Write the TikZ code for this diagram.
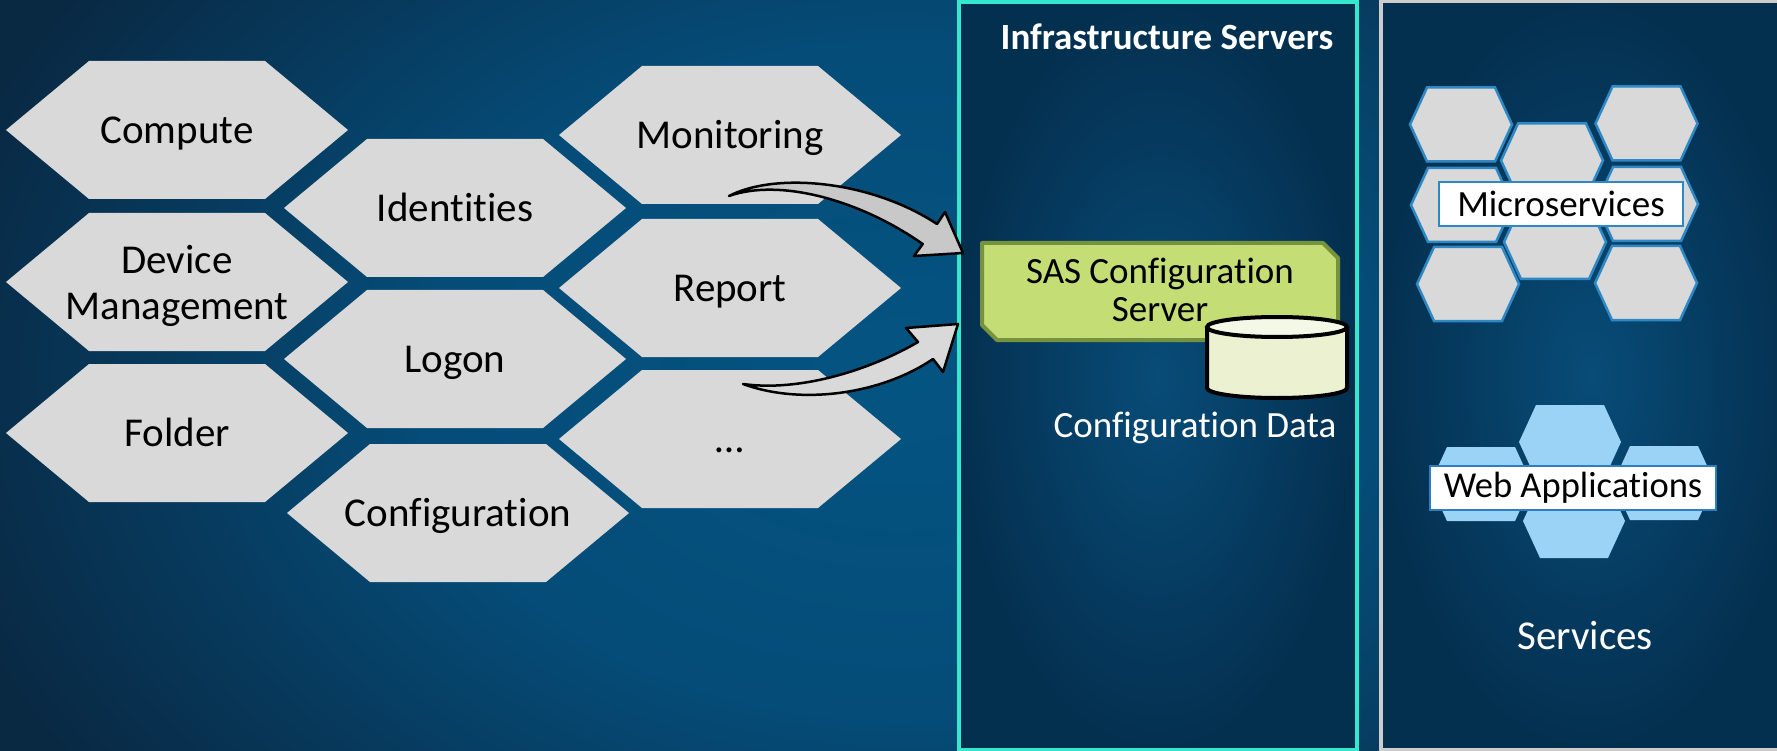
\documentclass[tikz,border=0pt]{standalone}
\usepackage{fontspec}
\setmainfont[Ligatures=NoCommon]{Carlito}
\definecolor{hexgray}{RGB}{217,217,217}
\definecolor{tealline}{RGB}{52,232,206}
\definecolor{panelgray}{RGB}{205,205,205}
\definecolor{sasgreen}{RGB}{196,221,116}
\definecolor{sasborder}{RGB}{118,146,60}
\definecolor{cylfill}{RGB}{235,241,209}
\definecolor{cyltop}{RGB}{244,248,230}
\definecolor{msblue}{RGB}{46,136,196}
\definecolor{wablue}{RGB}{155,211,246}
\definecolor{arrowgrayA}{RGB}{200,200,200}
\definecolor{arrowgrayB}{RGB}{217,217,217}
\definecolor{bgin}{RGB}{4,84,130}
\definecolor{bgmid}{RGB}{5,76,120}
\definecolor{bgout}{RGB}{9,40,66}
\definecolor{pin}{RGB}{8,76,120}
\definecolor{pout}{RGB}{4,48,80}
\pgfdeclareradialshading{bgshade}{\pgfpoint{0bp}{0bp}}{color(0bp)=(bgin); color(12bp)=(bgmid); color(25bp)=(bgout); color(50bp)=(bgout)}
\pgfdeclareradialshading{panelshade}{\pgfpoint{0bp}{0bp}}{color(0bp)=(pin); color(25bp)=(pout); color(50bp)=(pout)}
% big hexagon: [node options]{name}{cx}{cy}{text}
\newcommand\bighex[5][text height=0.66em,text depth=0.2em,yshift=-11pt]{%
  \fill[hexgray] ({#3-171},#4) -- ({#3-88},{#4-69}) -- ({#3+88},{#4-69}) -- ({#3+171},#4) -- ({#3+88},{#4+69}) -- ({#3-88},{#4+69}) -- cycle;
  \node[hextext,#1] (#2) at (#3,#4) {#5};}
% small hexagon: {name}{cx}{cy}{style}
\newcommand\smallhex[4]{%
  \path[#4] ({#2-51},#3) -- ({#2-34},{#3-37}) -- ({#2+34},{#3-37}) -- ({#2+51},#3) -- ({#2+34},{#3+37}) -- ({#2-34},{#3+37}) -- cycle;
  \coordinate (#1) at (#2,#3);}
\begin{document}
\begin{tikzpicture}[x=1pt,y=-1pt,
  hextext/.style={font=\fontsize{41}{46}\selectfont, text=black, align=center, inner sep=0pt},
  arrowshape/.style={draw=black, line width=2.5pt, line join=round},
  hexms/.style={fill=hexgray, draw=msblue, line width=2.5pt},
  hexwa/.style={fill=wablue},
  labelbox/.style={draw=msblue, fill=white, line width=2.5pt, inner sep=0pt, text=black},
  whitetext/.style={text=white, inner sep=0pt}]
\useasboundingbox (0,0) rectangle (1777,751);
% background
\begin{scope}
\clip (0,0) rectangle (1777,751);
\shade[shading=bgshade] (-100,-320) rectangle (1900,1080);
\end{scope}
% left hexagons
\bighex{compute}{177}{130}{Compute}
\bighex[yshift=-4pt]{devmgmt}{177}{282}{Device\\Management}
\bighex{folder}{177}{433}{Folder}
\bighex{identities}{455}{208}{Identities}
\bighex{logon}{455}{359}{Logon}
\bighex{configuration}{458}{513}{Configuration}
\bighex{monitoring}{730}{135}{Monitoring}
\bighex{report}{730}{288}{Report}
\bighex{more}{730}{439}{…}
% infrastructure panel
\shade[shading=panelshade] (959,2.5) rectangle (1357,749.5);
\draw[tealline, line width=4pt] (959,2.5) rectangle (1357,749.5);
\node[whitetext, font=\bfseries\fontsize{37}{44}\selectfont] (infra) at (1167,37) {Infrastructure Servers};
% SAS configuration server
\draw[sasborder, fill=sasgreen, line width=4pt, line join=round] (982,243) -- (1323,243) -- (1338,258) -- (1338,340) -- (997,340) -- (982,325) -- cycle;
\node[font=\fontsize{37}{38.5}\selectfont, align=center, inner sep=0pt] (sas) at (1160,290) {SAS Configuration\\Server};
% configuration data cylinder
\coordinate (db) at (1277,357);
\fill[cylfill] (1207,327) rectangle (1347,388);
\fill[cylfill] (1277,388) ellipse [x radius=70, y radius=10];
\draw[black, line width=4pt] (1207,327) -- (1207,388) arc[start angle=180, end angle=0, x radius=70, y radius=10] -- (1347,327);
\draw[black, line width=4pt, fill=cyltop] (1277,327) ellipse [x radius=70, y radius=10];
\node[whitetext, font=\fontsize{37}{44}\selectfont] (cdata) at (1195,428) {Configuration Data};
% services panel
\shade[shading=panelshade] (1381,1.5) rectangle (1800,749.5);
\draw[panelgray, line width=4pt] (1381,1.5) rectangle (1800,749.5);
% microservices
\smallhex{msA}{1461}{124.5}{hexms}
\smallhex{msB}{1646.5}{123.5}{hexms}
\smallhex{msD}{1462}{205}{hexms}
\smallhex{msE}{1647}{204}{hexms}
\smallhex{msG}{1468}{284}{hexms}
\smallhex{msH}{1646}{283}{hexms}
\smallhex{msC}{1552}{160.5}{hexms}
\smallhex{msF}{1555}{242}{hexms}
\node[labelbox, minimum width=244pt, minimum height=44pt, font=\fontsize{37}{44}\selectfont] (micro) at (1561,204) {Microservices};
% web applications
\smallhex{waT}{1570}{442}{hexwa}
\smallhex{waB}{1574}{521}{hexwa}
\smallhex{waL}{1481}{484}{hexwa}
\smallhex{waR}{1664}{483}{hexwa}
\node[labelbox, draw={rgb,255:red,46;green,125;blue,192}, minimum width=286pt, minimum height=44pt, font=\fontsize{36.5}{44}\selectfont] (webapps) at (1573,488) {Web Applications};
\node[whitetext, font=\fontsize{41}{46}\selectfont] (services) at (1585,636) {Services};
% curved block arrows
\coordinate (a1tail) at (729,196);
\coordinate (a1tip) at (963,253);
\draw[arrowshape, fill=arrowgrayA] (a1tail) .. controls (775,172) and (870,180) .. (937,224) -- (945,212) -- (a1tip) -- (914,256) -- (922.7,244) .. controls (860,200) and (780,178) .. (a1tail) -- cycle;
\coordinate (a2tail) at (743,384);
\coordinate (a2tip) at (958,324);
\draw[arrowshape, fill=arrowgrayB] (a2tail) .. controls (800,405) and (880,395) .. (933,359) -- (943,372) -- (a2tip) -- (906,328) -- (918,342) .. controls (870,370) and (800,392) .. (a2tail) -- cycle;
\end{tikzpicture}
\end{document}
